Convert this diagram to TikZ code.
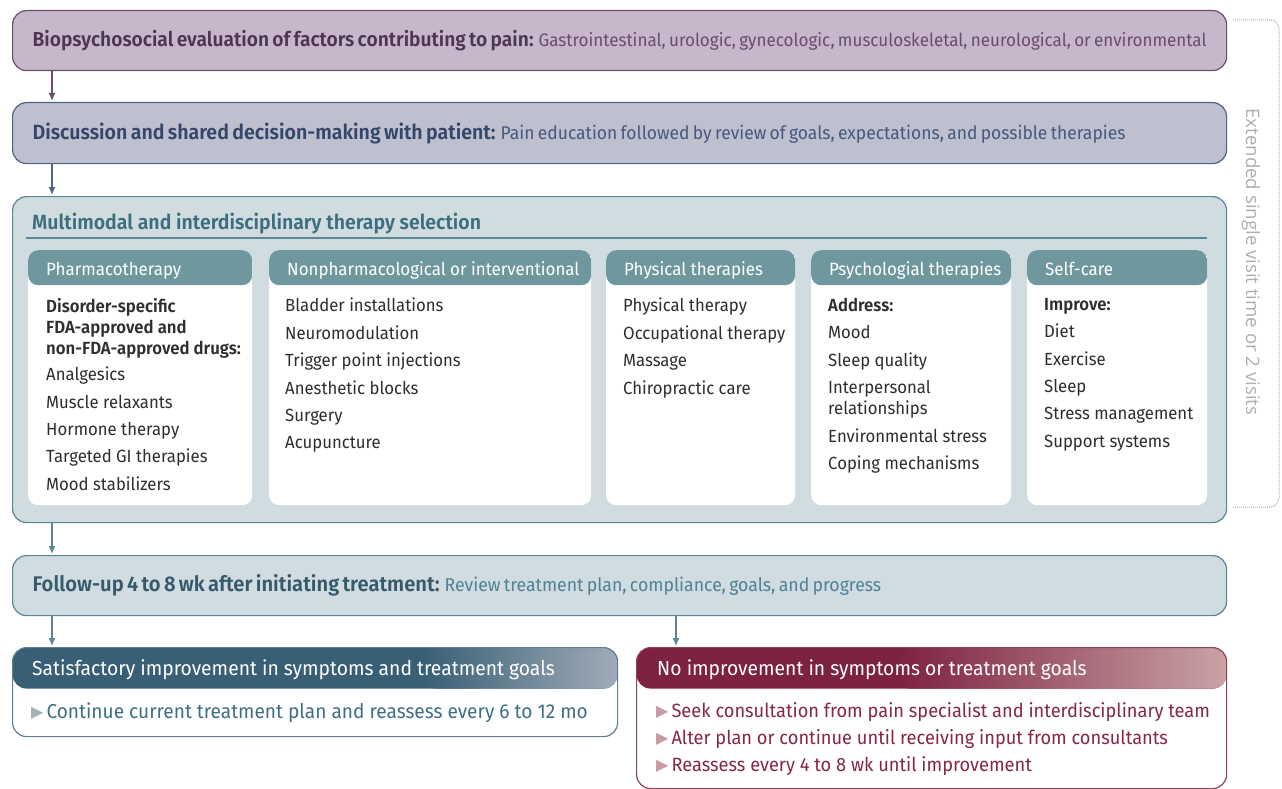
\documentclass[tikz,border=0pt]{standalone}
\usepackage{fontspec}
\setmainfont{Fira Sans}[FakeStretch=0.95, BoldFont={Fira Sans SemiBold}]
\newfontfamily\sidefont{Open Sans}
\newfontfamily\symfont{DejaVu Sans}
\usetikzlibrary{positioning,shadings,arrows.meta}

\definecolor{bioline}{HTML}{6E4C72}
\definecolor{biofill}{HTML}{C6B8CA}
\definecolor{biobold}{HTML}{4E3553}
\definecolor{biotext}{HTML}{6B4B70}
\definecolor{discline}{HTML}{4C6486}
\definecolor{discfill}{HTML}{BEC0D0}
\definecolor{discbold}{HTML}{34466A}
\definecolor{disctext}{HTML}{46587C}
\definecolor{multline}{HTML}{5B8696}
\definecolor{multfill}{HTML}{D0DCDF}
\definecolor{multtext}{HTML}{3D6E7F}
\definecolor{headfill}{HTML}{6F979E}
\definecolor{listtext}{HTML}{2E2E2E}
\definecolor{followbold}{HTML}{365A6C}
\definecolor{followtext}{HTML}{4F8294}
\definecolor{satdark}{HTML}{385F75}
\definecolor{satlight}{HTML}{A0ABB8}
\definecolor{sattext}{HTML}{3E6E84}
\definecolor{satbul}{HTML}{A6B0B6}
\definecolor{nodark}{HTML}{7D2140}
\definecolor{nolight}{HTML}{C9A3A5}
\definecolor{notext}{HTML}{86264A}
\definecolor{nobul}{HTML}{C99AA3}
\definecolor{sidegray}{HTML}{AEAEAE}

% kleine driehoek voor de opsommingen
\newcommand{\tri}[1]{{\symfont\fontsize{16}{16}\selectfont\color{#1}\raisebox{0.5pt}{▶}}\hspace{3pt}}
\newcommand{\boldsize}[1]{\fontsize{#1}{24}\selectfont\bfseries}
\newcommand{\textsize}[1]{\fontsize{#1}{22}\selectfont}

\begin{document}
\begin{tikzpicture}[x=1pt, y=-1pt, >={Latex[length=8pt, width=7pt]}, line join=round,
    stepbox/.style={rectangle, rounded corners=14pt, line width=1.2pt, anchor=north west,
      align=left, inner xsep=20pt, inner ysep=0pt},
    panel/.style={rectangle, rounded corners=10pt, fill=white, anchor=north west,
      minimum height=255pt, inner sep=0pt,
      path picture={\fill[headfill] (path picture bounding box.north west)
        rectangle ([yshift=-35pt]path picture bounding box.north east);}},
    headtxt/.style={anchor=base west, text=white, inner sep=0pt, font=\fontsize{17.8}{22}\selectfont},
    listtxt/.style={anchor=north west, align=left, inner sep=0pt, text=listtext,
      font=\fontsize{17.6}{27.4}\selectfont},
    flow/.style={->, line width=1.3pt, shorten >=1pt}]

  \useasboundingbox (0,0) rectangle (1282,789);

  % Stap 1 en 2
  \node[stepbox, draw=bioline, fill=biofill, text width=1180pt, inner xsep=17pt, minimum height=60pt] (bio) at (12,10)
    {\hspace{3pt}{\boldsize{20.2}\color{biobold}Biopsychosocial evaluation of factors contributing to pain:}
     {\textsize{17.95}\color{biotext}Gastrointestinal, urologic, gynecologic, musculoskeletal, neurological, or environmental}};
  \node[stepbox, draw=discline, fill=discfill, text width=1174pt, minimum height=61pt] (disc) at (12,102)
    {{\boldsize{20.6}\color{discbold}Discussion and shared decision-making with patient:}
     {\textsize{18.4}\color{disctext}Pain education followed by review of goals, expectations, and possible therapies}};

  % Therapiekeuze
  \node[stepbox, draw=multline, fill=multfill, minimum width=1214pt, minimum height=326pt] (multi) at (12,196) {};
  \node[anchor=base west, inner sep=0pt, text=multtext, font=\fontsize{20.5}{24}\selectfont\bfseries] (multitit)
    at (32,229) {Multimodal and interdisciplinary therapy selection};
  \draw[multline, line width=1.2pt] (26,238) -- (1207,238);

  \foreach \px/\pw/\pname/\ptitle in {28/224/pharm/Pharmacotherapy,
      269/322/nonph/Nonpharmacological or interventional,
      606/189/phys/Physical therapies,
      811/200/psych/Psychologial therapies,
      1027/180/self/Self-care}{
    \node[panel, minimum width=\pw pt] (\pname) at (\px,250) {};
    \node[headtxt] (\pname-head) at ([xshift=18pt, yshift=-25.5pt]\pname.north west) {\ptitle};
  }

  \node[listtxt] (pharm-list) at ([xshift=18pt, yshift=-48pt]pharm.north west)
    {{\bfseries Disorder-specific}\\[-6.4pt]{\bfseries FDA-approved and}\\[-6.4pt]{\bfseries non-FDA-approved drugs:}\\[-1pt]
     Analgesics\\Muscle relaxants\\Hormone therapy\\Targeted GI therapies\\Mood stabilizers};
  \node[listtxt] (nonph-list) at ([xshift=16pt, yshift=-48pt]nonph.north west)
    {Bladder installations\\Neuromodulation\\Trigger point injections\\Anesthetic blocks\\Surgery\\Acupuncture};
  \node[listtxt] (phys-list) at ([xshift=17pt, yshift=-48pt]phys.north west)
    {Physical therapy\\Occupational therapy\\Massage\\Chiropractic care};
  \node[listtxt] (psych-list) at ([xshift=17pt, yshift=-48pt]psych.north west)
    {{\bfseries Address:}\\Mood\\Sleep quality\\Interpersonal\\[-6.4pt]relationships\\Environmental stress\\Coping mechanisms};
  \node[listtxt] (self-list) at ([xshift=17pt, yshift=-48pt]self.north west)
    {{\bfseries Improve:}\\Diet\\Exercise\\Sleep\\Stress management\\Support systems};

  % Follow-up
  \node[stepbox, draw=multline, fill=multfill, text width=1174pt, minimum height=60pt] (follow) at (12,555)
    {{\boldsize{21.2}\color{followbold}Follow-up 4 to 8 wk after initiating treatment:}
     {\textsize{18.6}\color{followtext}Review treatment plan, compliance, goals, and progress}};

  % Uitkomsten
  \node[stepbox, draw=satdark!80, fill=white, minimum width=605pt, minimum height=89pt,
    path picture={
      \fill[satdark] (path picture bounding box.north west) rectangle ([yshift=-41pt]path picture bounding box.north east);
      \shade[left color=satdark, right color=satlight] ([xshift=-195pt]path picture bounding box.north east)
        rectangle ([yshift=-41pt]path picture bounding box.north east);}] (sat) at (12,647) {};
  \node[anchor=base west, inner sep=0pt, text=white, font=\fontsize{20.3}{24}\selectfont] (sat-head)
    at ([xshift=20pt, yshift=-28pt]sat.north west) {Satisfactory improvement in symptoms and treatment goals};
  \node[anchor=base west, inner sep=0pt, text=sattext, font=\fontsize{20.1}{24}\selectfont] (sat-body)
    at ([xshift=19pt, yshift=-71pt]sat.north west) {\tri{satbul}Continue current treatment plan and reassess every 6 to 12 mo};

  \node[stepbox, draw=nodark!85, fill=white, minimum width=590pt, minimum height=141pt,
    path picture={
      \fill[nodark] (path picture bounding box.north west) rectangle ([yshift=-41pt]path picture bounding box.north east);
      \shade[left color=nodark, right color=nolight] ([xshift=-330pt]path picture bounding box.north east)
        rectangle ([yshift=-41pt]path picture bounding box.north east);}] (noimp) at (636,647) {};
  \node[anchor=base west, inner sep=0pt, text=white, font=\fontsize{20.3}{24}\selectfont] (noimp-head)
    at ([xshift=21pt, yshift=-28pt]noimp.north west) {No improvement in symptoms or treatment goals};
  \node[anchor=north west, align=left, inner sep=0pt, text=notext, font=\fontsize{19.2}{27}\selectfont] (noimp-body)
    at ([xshift=20pt, yshift=-55pt]noimp.north west)
    {\tri{nobul}Seek consultation from pain specialist and interdisciplinary team\\
     \tri{nobul}Alter plan or continue until receiving input from consultants\\
     \tri{nobul}Reassess every 4 to 8 wk until improvement};

  % Pijlen
  \coordinate (leftx) at (52,0);
  \coordinate (rightx) at (676,0);
  \draw[flow, bioline] (bio.south -| leftx) -- (disc.north -| leftx);
  \draw[flow, discline] (disc.south -| leftx) -- (multi.north -| leftx);
  \draw[flow, multline] (multi.south -| leftx) -- (follow.north -| leftx);
  \draw[flow, multline] (follow.south -| leftx) -- (sat.north -| leftx);
  \draw[flow, multline] (follow.south -| rightx) -- (noimp.north -| rightx);

  % Bezoek-haak rechts
  \draw[sidegray, densely dotted, line width=1pt, rounded corners=9pt] (1233,20) -- (1279,20) -- (1279,507) -- (1233,507);
  \node[rotate=-90, text=sidegray, inner sep=0pt, font=\sidefont\fontsize{18.6}{19}\selectfont] (side)
    at (1251,262) {Extended single visit time or 2 visits};
\end{tikzpicture}
\end{document}
